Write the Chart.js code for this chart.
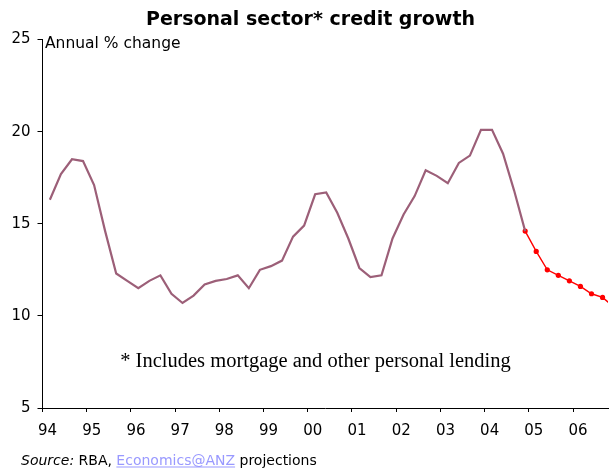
<!DOCTYPE html>
<html>
<head>
<meta charset="utf-8">
<script src="https://cdn.jsdelivr.net/npm/chart.js@4.4.1/dist/chart.umd.min.js"></script>
<style>
  html, body { margin: 0; padding: 0; background: #fff; overflow: hidden; }
  #wrap { position: relative; width: 612px; height: 468px; }
</style>
</head>
<body>
<div id="wrap"><canvas id="myChart" width="612" height="468"></canvas></div>
<script>
// quarterly annual % change, Mar-94 to Dec-04
const histStartYear = 1994;
const histValues = [
  16.3, 17.7, 18.5, 18.4,
  17.1, 14.6, 12.3, 11.9,
  11.5, 11.9, 12.2, 11.2,
  10.7, 11.1, 11.7, 11.9,
  12.0, 12.2, 11.5, 12.5,
  12.7, 13.0, 14.3, 14.9,
  16.6, 16.7, 15.6, 14.2,
  12.6, 12.1, 12.2, 14.2,
  15.5, 16.5, 17.9, 17.6,
  17.2, 18.3, 18.7, 20.1,
  20.1, 18.8, 16.8, 14.6
];
// ANZ projections, Dec-04 to Dec-06
const projStartYear = 2004;
const projStartQuarter = 3; // Dec quarter
const projValues = [14.6, 13.5, 12.5, 12.2, 11.9, 11.6, 11.2, 11.0, 10.5];

const yearTicks = [1994, 1995, 1996, 1997, 1998, 1999, 2000, 2001, 2002, 2003, 2004, 2005, 2006];
const yearLabels = ['94', '95', '96', '97', '98', '99', '00', '01', '02', '03', '04', '05', '06'];
const yTicks = [5, 10, 15, 20, 25];

// quarter end months Mar, Jun, Sep, Dec as fraction of a year
function quarterX(startYear, startQ, i) {
  let q = startQ + i;
  let year = startYear + Math.floor(q / 4);
  let month = (q % 4) * 3 + 3;
  return year + (month - 1) / 12;
}

let histData = histValues.map((v, i) => ({ x: quarterX(histStartYear, 0, i), y: v }));
let projData = projValues.map((v, i) => ({ x: quarterX(projStartYear, projStartQuarter, i), y: v }));

const sans = '"DejaVu Sans", Verdana, sans-serif';

// free text around the plot
const textPlugin = {
  id: 'chartText',
  afterDraw(chart) {
    let ctx = chart.ctx;
    ctx.save();
    ctx.fillStyle = '#000';
    ctx.textBaseline = 'alphabetic';

    ctx.font = 'bold 19px ' + sans;
    ctx.textAlign = 'center';
    ctx.fillText('Personal sector* credit growth', 310.5, 25);

    ctx.font = '15.5px ' + sans;
    ctx.textAlign = 'left';
    ctx.fillText('Annual % change', 45, 47.5);

    ctx.font = '20.5px "Liberation Serif", "Times New Roman", serif';
    ctx.textAlign = 'center';
    ctx.fillText('* Includes mortgage and other personal lending', 315.5, 366.5);

    // source line
    ctx.textAlign = 'left';
    let x = 21, y = 465;
    ctx.font = 'italic 14px ' + sans;
    ctx.fillText('Source:', x, y);
    x += ctx.measureText('Source: ').width;
    ctx.font = '14px ' + sans;
    ctx.fillText('RBA, ', x, y);
    x += ctx.measureText('RBA, ').width;
    let link = 'Economics@ANZ';
    let w = ctx.measureText(link).width;
    ctx.fillStyle = '#9999ff';
    ctx.fillText(link, x, y);
    ctx.fillRect(x, y + 1.5, w, 1);
    x += w + ctx.measureText(' ').width;
    ctx.fillStyle = '#000';
    ctx.fillText('projections', x, y);
    ctx.restore();
  }
};

let ctx = document.getElementById('myChart').getContext('2d');
let myChart = new Chart(ctx, {
  type: 'line',
  data: {
    datasets: [{
      label: 'Personal credit',
      data: histData,
      borderColor: '#9c5f78',
      borderWidth: 2.2,
      pointRadius: 0,
      tension: 0
    },
    {
      label: 'Projection',
      data: projData,
      borderColor: '#ff0000',
      backgroundColor: '#ff0000',
      borderWidth: 1.4,
      pointRadius: 2.6,
      pointBorderWidth: 0,
      pointStyle: 'circle',
      tension: 0
    }]
  },
  options: {
    responsive: false,
    animation: false,
    layout: { padding: { top: 39.5, right: 0, bottom: 0, left: 0 } },
    plugins: {
      legend: { display: false },
      tooltip: { enabled: false }
    },
    scales: {
      x: {
        type: 'linear',
        min: 1994,
        max: 2006.79,
        afterBuildTicks: function(scale) {
          scale.ticks = yearTicks.map(v => ({ value: v }));
        },
        afterFit: function(scale) { scale.height = 60; },
        border: { display: true, color: '#000', width: 1 },
        grid: { display: true, drawOnChartArea: false, drawTicks: true, tickLength: 4, color: '#000' },
        ticks: {
          autoSkip: false,
          maxRotation: 0,
          padding: 10,
          labelOffset: 5,
          color: '#000',
          font: { family: sans, size: 15 },
          callback: function(value) {
            let i = yearTicks.indexOf(value);
            return i >= 0 ? yearLabels[i] : '';
          }
        }
      },
      y: {
        min: 5,
        max: 25,
        afterBuildTicks: function(scale) {
          scale.ticks = yTicks.map(v => ({ value: v }));
        },
        afterFit: function(scale) { scale.width = 42.5; },
        border: { display: true, color: '#000', width: 1 },
        grid: { display: true, drawOnChartArea: false, drawTicks: true, tickLength: 5, color: '#000' },
        ticks: {
          padding: 7,
          color: '#000',
          font: { family: sans, size: 15 }
        }
      }
    }
  },
  plugins: [textPlugin]
});
</script>
</body>
</html>
